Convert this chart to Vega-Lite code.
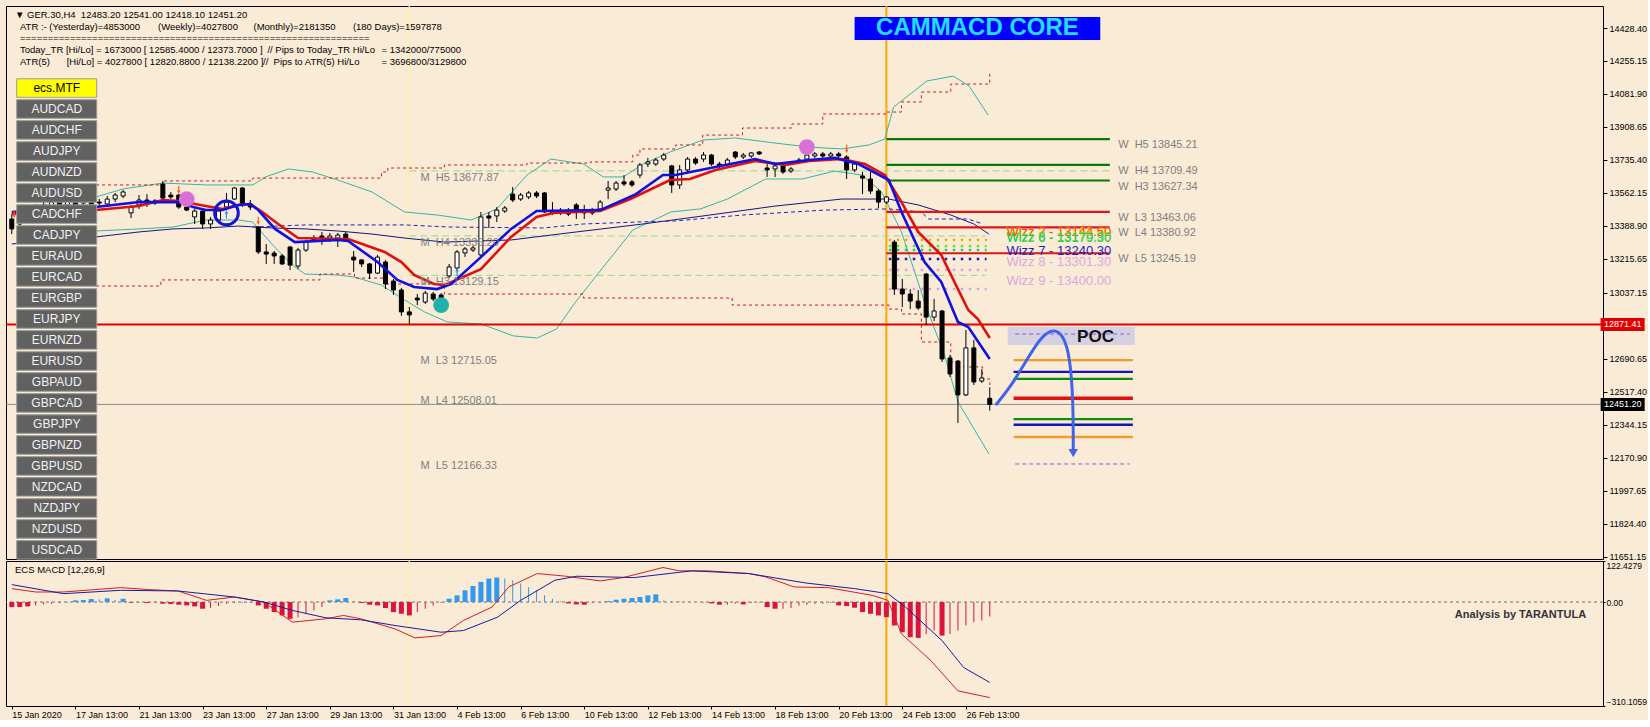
{
"$schema":"https://vega.github.io/schema/vega-lite/v6.json",
"background":"#FAEBD7",
"padding":{"left":4,"top":4,"right":0,"bottom":0},
"spacing":2,
"bounds":"flush",
"config":{"view":{"stroke":"#000000","strokeWidth":1},"font":"Liberation Sans","axis":{"labelFont":"Liberation Sans","labelFontSize":9,"labelColor":"#000000","tickColor":"#000000","domain":false,"grid":false},"tick":{"opacity":1},"point":{"opacity":1}},
"resolve":{"scale":{"x":"independent","y":"independent","color":"independent"}},
"datasets":{
"candles":[
{"b":0,"o":13425,"h":13451,"l":13346,"c":13373},{"b":1,"o":13399,"h":13478,"l":13378,"c":13462},{"b":2,"o":13451,"h":13499,"l":13436,"c":13483},{"b":3,"o":13488,"h":13504,"l":13441,"c":13462},{"b":4,"o":13472,"h":13514,"l":13457,"c":13499},{"b":5,"o":13488,"h":13530,"l":13467,"c":13514},{"b":6,"o":13514,"h":13530,"l":13478,"c":13493},{"b":7,"o":13499,"h":13541,"l":13483,"c":13525},{"b":8,"o":13520,"h":13535,"l":13483,"c":13499},{"b":9,"o":13509,"h":13546,"l":13493,"c":13530},
{"b":10,"o":13525,"h":13541,"l":13488,"c":13504},{"b":11,"o":13514,"h":13530,"l":13493,"c":13509},{"b":12,"o":13504,"h":13546,"l":13493,"c":13530},{"b":13,"o":13530,"h":13562,"l":13514,"c":13551},{"b":14,"o":13546,"h":13577,"l":13535,"c":13567},{"b":15,"o":13457,"h":13499,"l":13430,"c":13488},{"b":16,"o":13499,"h":13551,"l":13478,"c":13525},{"b":17,"o":13525,"h":13556,"l":13488,"c":13509},{"b":18,"o":13520,"h":13530,"l":13499,"c":13509},{"b":19,"o":13609,"h":13625,"l":13530,"c":13535},
{"b":20,"o":13551,"h":13567,"l":13530,"c":13541},{"b":21,"o":13551,"h":13556,"l":13478,"c":13488},{"b":22,"o":13488,"h":13499,"l":13467,"c":13472},{"b":23,"o":13436,"h":13478,"l":13399,"c":13467},{"b":24,"o":13467,"h":13478,"l":13373,"c":13399},{"b":25,"o":13399,"h":13436,"l":13373,"c":13420},{"b":26,"o":13420,"h":13478,"l":13409,"c":13467},{"b":27,"o":13488,"h":13562,"l":13478,"c":13514},{"b":28,"o":13530,"h":13593,"l":13525,"c":13588},{"b":29,"o":13588,"h":13593,"l":13488,"c":13499},
{"b":30,"o":13504,"h":13525,"l":13472,"c":13488},{"b":31,"o":13383,"h":13388,"l":13241,"c":13252},{"b":32,"o":13252,"h":13294,"l":13189,"c":13241},{"b":33,"o":13246,"h":13257,"l":13189,"c":13231},{"b":34,"o":13231,"h":13241,"l":13183,"c":13189},{"b":35,"o":13278,"h":13283,"l":13157,"c":13183},{"b":36,"o":13178,"h":13273,"l":13162,"c":13262},{"b":37,"o":13262,"h":13315,"l":13252,"c":13304},{"b":38,"o":13325,"h":13341,"l":13304,"c":13315},{"b":39,"o":13336,"h":13357,"l":13289,"c":13325},
{"b":40,"o":13325,"h":13352,"l":13304,"c":13336},{"b":41,"o":13325,"h":13352,"l":13278,"c":13341},{"b":42,"o":13346,"h":13357,"l":13304,"c":13320},{"b":43,"o":13225,"h":13257,"l":13147,"c":13210},{"b":44,"o":13210,"h":13215,"l":13173,"c":13189},{"b":45,"o":13189,"h":13194,"l":13110,"c":13141},{"b":46,"o":13141,"h":13236,"l":13136,"c":13225},{"b":47,"o":13199,"h":13210,"l":13057,"c":13084},{"b":48,"o":13099,"h":13110,"l":13026,"c":13052},{"b":49,"o":13052,"h":13063,"l":12916,"c":12937},
{"b":50,"o":12937,"h":12963,"l":12874,"c":12921},{"b":51,"o":13010,"h":13031,"l":12973,"c":13000},{"b":52,"o":12989,"h":13047,"l":12979,"c":13036},{"b":53,"o":13031,"h":13042,"l":12994,"c":13005},{"b":54,"o":13026,"h":13036,"l":12989,"c":13000},{"b":55,"o":13126,"h":13189,"l":13115,"c":13173},{"b":56,"o":13168,"h":13262,"l":13157,"c":13252},{"b":57,"o":13247,"h":13278,"l":13226,"c":13268},{"b":58,"o":13262,"h":13283,"l":13252,"c":13273},{"b":59,"o":13236,"h":13462,"l":13231,"c":13436},
{"b":60,"o":13441,"h":13462,"l":13378,"c":13430},{"b":61,"o":13441,"h":13488,"l":13409,"c":13472},{"b":62,"o":13467,"h":13493,"l":13457,"c":13483},{"b":63,"o":13556,"h":13593,"l":13514,"c":13525},{"b":64,"o":13530,"h":13562,"l":13520,"c":13551},{"b":65,"o":13541,"h":13572,"l":13530,"c":13562},{"b":66,"o":13562,"h":13572,"l":13535,"c":13546},{"b":67,"o":13562,"h":13567,"l":13457,"c":13462},{"b":68,"o":13467,"h":13514,"l":13446,"c":13457},{"b":69,"o":13457,"h":13483,"l":13446,"c":13467},
{"b":70,"o":13462,"h":13483,"l":13441,"c":13451},{"b":71,"o":13499,"h":13509,"l":13425,"c":13467},{"b":72,"o":13457,"h":13499,"l":13425,"c":13467},{"b":73,"o":13467,"h":13483,"l":13446,"c":13457},{"b":74,"o":13478,"h":13525,"l":13467,"c":13514},{"b":75,"o":13577,"h":13625,"l":13530,"c":13588},{"b":76,"o":13583,"h":13625,"l":13572,"c":13614},{"b":77,"o":13620,"h":13656,"l":13598,"c":13609},{"b":78,"o":13620,"h":13630,"l":13593,"c":13604},{"b":79,"o":13656,"h":13719,"l":13640,"c":13709},
{"b":80,"o":13714,"h":13746,"l":13698,"c":13725},{"b":81,"o":13714,"h":13746,"l":13704,"c":13735},{"b":82,"o":13740,"h":13772,"l":13730,"c":13761},{"b":83,"o":13704,"h":13709,"l":13562,"c":13604},{"b":84,"o":13604,"h":13709,"l":13583,"c":13683},{"b":85,"o":13683,"h":13751,"l":13672,"c":13740},{"b":86,"o":13740,"h":13751,"l":13709,"c":13719},{"b":87,"o":13740,"h":13777,"l":13725,"c":13761},{"b":88,"o":13761,"h":13767,"l":13704,"c":13714},{"b":89,"o":13714,"h":13725,"l":13693,"c":13704},
{"b":90,"o":13709,"h":13746,"l":13698,"c":13735},{"b":91,"o":13777,"h":13782,"l":13740,"c":13751},{"b":92,"o":13751,"h":13772,"l":13740,"c":13761},{"b":93,"o":13756,"h":13777,"l":13746,"c":13772},{"b":94,"o":13777,"h":13782,"l":13761,"c":13767},{"b":95,"o":13693,"h":13714,"l":13646,"c":13683},{"b":96,"o":13688,"h":13714,"l":13646,"c":13704},{"b":97,"o":13704,"h":13714,"l":13662,"c":13672},{"b":98,"o":13677,"h":13698,"l":13667,"c":13688},{"b":99,"o":13725,"h":13746,"l":13714,"c":13735},
{"b":100,"o":13740,"h":13772,"l":13730,"c":13761},{"b":101,"o":13756,"h":13777,"l":13746,"c":13767},{"b":102,"o":13767,"h":13777,"l":13746,"c":13756},{"b":103,"o":13756,"h":13777,"l":13746,"c":13767},{"b":104,"o":13767,"h":13777,"l":13746,"c":13756},{"b":105,"o":13751,"h":13761,"l":13635,"c":13683},{"b":106,"o":13683,"h":13725,"l":13672,"c":13714},{"b":107,"o":13651,"h":13672,"l":13556,"c":13640},{"b":108,"o":13635,"h":13672,"l":13556,"c":13572},{"b":109,"o":13572,"h":13583,"l":13483,"c":13514},
{"b":110,"o":13514,"h":13546,"l":13504,"c":13541},{"b":111,"o":13304,"h":13315,"l":13026,"c":13057},{"b":112,"o":13057,"h":13110,"l":12963,"c":13031},{"b":113,"o":13031,"h":13057,"l":12952,"c":12994},{"b":114,"o":12994,"h":13052,"l":12947,"c":12958},{"b":115,"o":13136,"h":13141,"l":12868,"c":12910},{"b":116,"o":12910,"h":13005,"l":12889,"c":12942},{"b":117,"o":12942,"h":12947,"l":12674,"c":12690},{"b":118,"o":12695,"h":12711,"l":12595,"c":12611},{"b":119,"o":12679,"h":12684,"l":12354,"c":12501},
{"b":120,"o":12501,"h":12842,"l":12495,"c":12748},{"b":121,"o":12748,"h":12790,"l":12553,"c":12569},{"b":122,"o":12574,"h":12637,"l":12564,"c":12590},{"b":123,"o":12483.2,"h":12541,"l":12418.1,"c":12451.2}],
"lines":[
{"s":"eS","b":0,"p":13451},{"s":"eS","b":10.6,"p":13472},{"s":"eS","b":16,"p":13493},{"s":"eS","b":19,"p":13525},{"s":"eS","b":21,"p":13520},{"s":"eS","b":24.4,"p":13493},{"s":"eS","b":26.5,"p":13478},{"s":"eS","b":28.5,"p":13499},{"s":"eS","b":30,"p":13504},{"s":"eS","b":31.5,"p":13462},{"s":"eS","b":33.5,"p":13399},{"s":"eS","b":36,"p":13325},{"s":"eS","b":41,"p":13320},{"s":"eS","b":42.3,"p":13320},{"s":"eS","b":46.9,"p":13252},{"s":"eS","b":49,"p":13199},{"s":"eS","b":50.6,"p":13131},{"s":"eS","b":53.1,"p":13084},{"s":"eS","b":54.4,"p":13078},{"s":"eS","b":59,"p":13162},{"s":"eS","b":62.8,"p":13331},{"s":"eS","b":66,"p":13436},{"s":"eS","b":68.1,"p":13457},{"s":"eS","b":74,"p":13467},{"s":"eS","b":77.8,"p":13530},{"s":"eS","b":82.8,"p":13630},{"s":"eS","b":85.3,"p":13635},{"s":"eS","b":88.5,"p":13683},{"s":"eS","b":93.5,"p":13730},{"s":"eS","b":97.3,"p":13709},{"s":"eS","b":100.3,"p":13730},{"s":"eS","b":104.4,"p":13740},{"s":"eS","b":107.3,"p":13714},{"s":"eS","b":109.8,"p":13656},{"s":"eS","b":111.9,"p":13514},{"s":"eS","b":114,"p":13357},{"s":"eS","b":116.9,"p":13236},{"s":"eS","b":119,"p":13057},{"s":"eS","b":120.3,"p":12947},{"s":"eS","b":121.5,"p":12900},{"s":"eS","b":123,"p":12800},
{"s":"eF","b":0,"p":13462},{"s":"eF","b":10.6,"p":13488},{"s":"eF","b":16,"p":13514},{"s":"eF","b":18.5,"p":13514},{"s":"eF","b":21,"p":13514},{"s":"eF","b":22.8,"p":13488},{"s":"eF","b":24.4,"p":13472},{"s":"eF","b":26.5,"p":13472},{"s":"eF","b":28.5,"p":13499},{"s":"eF","b":30,"p":13504},{"s":"eF","b":31,"p":13472},{"s":"eF","b":33.1,"p":13373},{"s":"eF","b":35.6,"p":13304},{"s":"eF","b":41,"p":13315},{"s":"eF","b":42.3,"p":13310},{"s":"eF","b":46,"p":13199},{"s":"eF","b":48.5,"p":13105},{"s":"eF","b":50.6,"p":13068},{"s":"eF","b":53.5,"p":13057},{"s":"eF","b":55.3,"p":13084},{"s":"eF","b":59,"p":13225},{"s":"eF","b":62.8,"p":13373},{"s":"eF","b":66,"p":13467},{"s":"eF","b":74,"p":13472},{"s":"eF","b":78.5,"p":13556},{"s":"eF","b":81.9,"p":13656},{"s":"eF","b":83.5,"p":13656},{"s":"eF","b":88.5,"p":13698},{"s":"eF","b":93.5,"p":13740},{"s":"eF","b":96,"p":13714},{"s":"eF","b":100.3,"p":13735},{"s":"eF","b":103.5,"p":13746},{"s":"eF","b":106.5,"p":13714},{"s":"eF","b":110.3,"p":13630},{"s":"eF","b":111.9,"p":13462},{"s":"eF","b":114.8,"p":13199},{"s":"eF","b":116.9,"p":13094},{"s":"eF","b":119,"p":12884},{"s":"eF","b":120.3,"p":12858},{"s":"eF","b":123,"p":12690},
{"s":"mL","b":0,"p":13294},{"s":"mL","b":10.6,"p":13331},{"s":"mL","b":16,"p":13357},{"s":"mL","b":20.3,"p":13373},{"s":"mL","b":24.4,"p":13378},{"s":"mL","b":28.5,"p":13388},{"s":"mL","b":32.8,"p":13378},{"s":"mL","b":36.9,"p":13373},{"s":"mL","b":41,"p":13362},{"s":"mL","b":45.3,"p":13346},{"s":"mL","b":49.4,"p":13325},{"s":"mL","b":54.4,"p":13304},{"s":"mL","b":62.8,"p":13315},{"s":"mL","b":71,"p":13357},{"s":"mL","b":79.4,"p":13399},{"s":"mL","b":87.8,"p":13446},{"s":"mL","b":96,"p":13493},{"s":"mL","b":104.4,"p":13530},{"s":"mL","b":110.3,"p":13530},{"s":"mL","b":114,"p":13499},{"s":"mL","b":118.1,"p":13446},{"s":"mL","b":121,"p":13399},{"s":"mL","b":122.9,"p":13346},
{"s":"mD","b":30.3,"p":13383},{"s":"mD","b":36.9,"p":13394},{"s":"mD","b":49.4,"p":13394},{"s":"mD","b":55,"p":13383},{"s":"mD","b":66.9,"p":13378},{"s":"mD","b":71.9,"p":13399},{"s":"mD","b":78.5,"p":13409},{"s":"mD","b":83.5,"p":13415},{"s":"mD","b":91.9,"p":13446},{"s":"mD","b":102.3,"p":13472},{"s":"mD","b":110.3,"p":13478},{"s":"mD","b":114.4,"p":13462},{"s":"mD","b":115.3,"p":13425},{"s":"mD","b":120.3,"p":13425},{"s":"mD","b":122.1,"p":13399},
{"s":"bU","b":10.6,"p":13541},{"s":"bU","b":14,"p":13583},{"s":"bU","b":19,"p":13614},{"s":"bU","b":24.4,"p":13604},{"s":"bU","b":30.3,"p":13604},{"s":"bU","b":31.9,"p":13646},{"s":"bU","b":34.8,"p":13688},{"s":"bU","b":37.8,"p":13672},{"s":"bU","b":41,"p":13630},{"s":"bU","b":45.3,"p":13567},{"s":"bU","b":49.4,"p":13462},{"s":"bU","b":53.5,"p":13446},{"s":"bU","b":57.8,"p":13420},{"s":"bU","b":61,"p":13478},{"s":"bU","b":64.8,"p":13656},{"s":"bU","b":67.8,"p":13740},{"s":"bU","b":71.9,"p":13714},{"s":"bU","b":74.4,"p":13646},{"s":"bU","b":76.9,"p":13646},{"s":"bU","b":79.4,"p":13714},{"s":"bU","b":82.8,"p":13777},{"s":"bU","b":86.9,"p":13840},{"s":"bU","b":91,"p":13851},{"s":"bU","b":96,"p":13824},{"s":"bU","b":100.3,"p":13803},{"s":"bU","b":104.4,"p":13793},{"s":"bU","b":107.8,"p":13814},{"s":"bU","b":109.8,"p":13845},{"s":"bU","b":110.9,"p":14013},{"s":"bU","b":115.1,"p":14150},{"s":"bU","b":118.4,"p":14176},{"s":"bU","b":120.4,"p":14124},{"s":"bU","b":122.8,"p":13971},
{"s":"bL","b":10.6,"p":13362},{"s":"bL","b":16,"p":13373},{"s":"bL","b":20.3,"p":13383},{"s":"bL","b":24.4,"p":13420},{"s":"bL","b":28.5,"p":13420},{"s":"bL","b":30.3,"p":13409},{"s":"bL","b":32.8,"p":13289},{"s":"bL","b":35.3,"p":13183},{"s":"bL","b":36.9,"p":13136},{"s":"bL","b":41,"p":13131},{"s":"bL","b":43.1,"p":13120},{"s":"bL","b":46.5,"p":13078},{"s":"bL","b":49.4,"p":13000},{"s":"bL","b":51.9,"p":12937},{"s":"bL","b":54.8,"p":12884},{"s":"bL","b":59,"p":12874},{"s":"bL","b":63.1,"p":12811},{"s":"bL","b":66.1,"p":12800},{"s":"bL","b":68.5,"p":12847},{"s":"bL","b":70.9,"p":12989},{"s":"bL","b":74.4,"p":13173},{"s":"bL","b":78.1,"p":13367},{"s":"bL","b":82.9,"p":13462},{"s":"bL","b":86.6,"p":13478},{"s":"bL","b":90,"p":13530},{"s":"bL","b":94.8,"p":13635},{"s":"bL","b":99.4,"p":13635},{"s":"bL","b":103.5,"p":13677},{"s":"bL","b":106.9,"p":13656},{"s":"bL","b":109.4,"p":13567},{"s":"bL","b":111.9,"p":13357},{"s":"bL","b":114.8,"p":12989},{"s":"bL","b":117.3,"p":12711},{"s":"bL","b":119,"p":12464},{"s":"bL","b":122.9,"p":12191},
{"s":"nU","b":10.6,"p":13604},{"s":"nU","b":19,"p":13625},{"s":"nU","b":30.3,"p":13640},{"s":"nU","b":46.5,"p":13672},{"s":"nU","b":47.3,"p":13693},{"s":"nU","b":54.4,"p":13709},{"s":"nU","b":64.8,"p":13719},{"s":"nU","b":72.8,"p":13725},{"s":"nU","b":78.1,"p":13761},{"s":"nU","b":79,"p":13793},{"s":"nU","b":83.5,"p":13814},{"s":"nU","b":86.9,"p":13866},{"s":"nU","b":91.9,"p":13903},{"s":"nU","b":98.1,"p":13924},{"s":"nU","b":102,"p":13977},{"s":"nU","b":109.9,"p":13987},{"s":"nU","b":111.9,"p":14040},{"s":"nU","b":114.4,"p":14092},{"s":"nU","b":118.1,"p":14134},{"s":"nU","b":123,"p":14197},
{"s":"nL","b":10.6,"p":13073},{"s":"nL","b":18.75,"p":13105},{"s":"nL","b":38.75,"p":13136},{"s":"nL","b":43.1,"p":13115},{"s":"nL","b":46.9,"p":13084},{"s":"nL","b":54.4,"p":13031},{"s":"nL","b":71.9,"p":13010},{"s":"nL","b":90.6,"p":12973},{"s":"nL","b":110.3,"p":12952},{"s":"nL","b":111.9,"p":12926},{"s":"nL","b":114.4,"p":12779},{"s":"nL","b":118.1,"p":12674},{"s":"nL","b":119,"p":12648},{"s":"nL","b":122.1,"p":12585},{"s":"nL","b":123,"p":12553}],
"mlev":[{"b":50,"b2":138.1,"p":13677.87,"t":"M\u00a0\u00a0H5 13677.87"},{"b":50,"b2":122.5,"p":13336.2,"t":"M\u00a0\u00a0H4 13336.20"},{"b":50,"b2":122.5,"p":13129.15,"t":"M\u00a0\u00a0H3 13129.15"},{"p":12715.05,"t":"M\u00a0\u00a0L3 12715.05"},{"p":12508.01,"t":"M\u00a0\u00a0L4 12508.01"},{"p":12166.33,"t":"M\u00a0\u00a0L5 12166.33"}],
"wlev":[{"p":13845.21,"k":"H","t":"W\u00a0\u00a0H5 13845.21"},{"p":13709.49,"k":"H","t":"W\u00a0\u00a0H4 13709.49"},{"p":13627.34,"k":"H","t":"W\u00a0\u00a0H3 13627.34"},{"p":13463.06,"k":"L","t":"W\u00a0\u00a0L3 13463.06"},{"p":13380.92,"k":"L","t":"W\u00a0\u00a0L4 13380.92"},{"p":13245.19,"k":"L","t":"W\u00a0\u00a0L5 13245.19"}],
"wdots":[{"p":13315,"k":"w3"},{"p":13283,"k":"w5"},{"p":13262,"k":"w6"},{"p":13215,"k":"w7"},{"p":13157,"k":"w8"},{"p":13057,"k":"w9"}],
"wizz":[{"p":13315,"k":"w3","t":"Wizz 3 - 13163.80"},{"p":13315,"k":"w2","t":"Wizz 2 - 13144.50"},{"p":13290,"k":"w5","t":"Wizz 5 - 13170.90"},{"p":13283,"k":"w6","t":"Wizz 6 - 13179.30"},{"p":13215,"k":"w7","t":"Wizz 7 - 13240.30"},{"p":13157,"k":"w8","t":"Wizz 8 - 13301.30"},{"p":13057,"k":"w9","t":"Wizz 9 - 13400.00"}],
"zl":[{"p":12684,"k":"o"},{"p":12622,"k":"b"},{"p":12585.4,"k":"g"},{"p":12373.7,"k":"g"},{"p":12344,"k":"b"},{"p":12280,"k":"o"}],
"arrow":[{"k":0,"b":123.75,"p":12448},{"k":1,"b":125.6,"p":12542},{"k":2,"b":127.5,"p":12674},{"k":3,"b":129.4,"p":12805},{"k":4,"b":131,"p":12850},{"k":5,"b":132.25,"p":12816},{"k":6,"b":133.1,"p":12700},{"k":7,"b":133.5,"p":12464},{"k":8,"b":133.5,"p":12215}],
"marks":[{"k":"pink","b":22,"p":13530},{"k":"pink","b":100,"p":13803},{"k":"teal","b":54,"p":12973},{"k":"ring","b":27,"p":13457},{"k":"up","b":27,"p":13450},{"k":"up","b":56,"p":13147},{"k":"down","b":0.3,"p":13451},{"k":"down","b":21,"p":13577},{"k":"down","b":31,"p":13415},{"k":"down","b":105,"p":13793}],
"btn":[{"t":"ecs.MTF","p":14113},{"t":"AUDCAD","p":14003},{"t":"AUDCHF","p":13893},{"t":"AUDJPY","p":13782},{"t":"AUDNZD","p":13672},{"t":"AUDUSD","p":13562},{"t":"CADCHF","p":13451},{"t":"CADJPY","p":13341},{"t":"EURAUD","p":13231},{"t":"EURCAD","p":13121},{"t":"EURGBP","p":13010},{"t":"EURJPY","p":12900},{"t":"EURNZD","p":12790},{"t":"EURUSD","p":12679},{"t":"GBPAUD","p":12569},{"t":"GBPCAD","p":12459},{"t":"GBPJPY","p":12348},{"t":"GBPNZD","p":12238},{"t":"GBPUSD","p":12128},{"t":"NZDCAD","p":12018},{"t":"NZDJPY","p":11907},{"t":"NZDUSD","p":11797},{"t":"USDCAD","p":11687}],
"info":[{"b":0.4,"p":14497,"t":"▼ GER.30,H4\u00a0\u00a012483.20 12541.00 12418.10 12451.20"},{"b":1.03,"p":14434,"t":"ATR :- (Yesterday)=4853000"},{"b":18.4,"p":14434,"t":"(Weekly)=4027800"},{"b":30.4,"p":14434,"t":"(Monthly)=2181350"},{"b":42.9,"p":14434,"t":"(180 Days)=1597878"},{"b":1.03,"p":14376,"t":"==============================================================="},{"b":1.03,"p":14313,"t":"Today_TR [Hi/Lo] = 1673000 [ 12585.4000 / 12373.7000 ]"},{"b":32.15,"p":14313,"t":"// Pips to Today_TR Hi/Lo"},{"b":46.5,"p":14313,"t":"= 1342000/775000"},{"b":1.03,"p":14250,"t":"ATR(5)"},{"b":6.9,"p":14250,"t":"[Hi/Lo] = 4027800 [ 12820.8800 / 12138.2200 ]"},{"b":31.6,"p":14250,"t":"//\u00a0\u00a0Pips to ATR(5) Hi/Lo"},{"b":46.5,"p":14250,"t":"= 3696800/3129800"}],
"hist":[{"b":0,"v":-15,"k":"s"},{"b":1,"v":-15,"k":"s"},{"b":2,"v":-13,"k":"s"},{"b":3,"v":-10,"k":"f"},{"b":4,"v":-7,"k":"f"},{"b":5,"v":-5,"k":"f"},{"b":6,"v":-3,"k":"f"},{"b":7,"v":-1,"k":"f"},{"b":8,"v":5,"k":"s"},{"b":9,"v":6,"k":"s"},{"b":10,"v":9,"k":"s"},{"b":11,"v":8,"k":"f"},{"b":12,"v":11,"k":"s"},{"b":13,"v":6,"k":"f"},{"b":14,"v":10,"k":"s"},{"b":15,"v":-2,"k":"s"},{"b":16,"v":-2,"k":"f"},{"b":17,"v":-3,"k":"s"},{"b":18,"v":-3,"k":"f"},{"b":19,"v":-5,"k":"s"},{"b":20,"v":-6,"k":"s"},{"b":21,"v":-8,"k":"s"},{"b":22,"v":-10,"k":"s"},{"b":23,"v":-13,"k":"s"},{"b":24,"v":-20,"k":"s"},{"b":25,"v":-18,"k":"f"},{"b":26,"v":-12,"k":"f"},{"b":27,"v":-5,"k":"f"},{"b":28,"v":-3,"k":"f"},{"b":29,"v":-2,"k":"f"},{"b":30,"v":-1,"k":"f"},{"b":31,"v":-10,"k":"s"},{"b":32,"v":-20,"k":"s"},{"b":33,"v":-30,"k":"s"},{"b":34,"v":-40,"k":"s"},{"b":35,"v":-50,"k":"s"},{"b":36,"v":-45,"k":"f"},{"b":37,"v":-35,"k":"f"},{"b":38,"v":-25,"k":"f"},{"b":39,"v":-15,"k":"f"},{"b":40,"v":5,"k":"s"},{"b":41,"v":8,"k":"s"},{"b":42,"v":12,"k":"s"},{"b":43,"v":3,"k":"f"},{"b":44,"v":-3,"k":"s"},{"b":45,"v":-8,"k":"s"},{"b":46,"v":-10,"k":"s"},{"b":47,"v":-18,"k":"s"},{"b":48,"v":-30,"k":"s"},{"b":49,"v":-35,"k":"s"},{"b":50,"v":-40,"k":"s"},{"b":51,"v":-30,"k":"f"},{"b":52,"v":-20,"k":"f"},{"b":53,"v":-10,"k":"f"},{"b":54,"v":-3,"k":"f"},{"b":55,"v":10,"k":"s"},{"b":56,"v":20,"k":"s"},{"b":57,"v":35,"k":"s"},{"b":58,"v":48,"k":"s"},{"b":59,"v":60,"k":"s"},{"b":60,"v":70,"k":"s"},{"b":61,"v":73,"k":"s"},{"b":62,"v":70,"k":"f"},{"b":63,"v":65,"k":"f"},{"b":64,"v":55,"k":"f"},{"b":65,"v":45,"k":"f"},{"b":66,"v":35,"k":"f"},{"b":67,"v":20,"k":"f"},{"b":68,"v":10,"k":"f"},{"b":69,"v":3,"k":"f"},{"b":70,"v":-4,"k":"s"},{"b":71,"v":-7,"k":"s"},{"b":72,"v":-8,"k":"s"},{"b":73,"v":-3,"k":"f"},{"b":74,"v":-1,"k":"f"},{"b":75,"v":3,"k":"s"},{"b":76,"v":7,"k":"s"},{"b":77,"v":10,"k":"s"},{"b":78,"v":12,"k":"s"},{"b":79,"v":15,"k":"s"},{"b":80,"v":20,"k":"s"},{"b":81,"v":23,"k":"s"},{"b":82,"v":5,"k":"f"},{"b":83,"v":3,"k":"f"},{"b":84,"v":2,"k":"f"},{"b":85,"v":1,"k":"f"},{"b":86,"v":1,"k":"f"},{"b":87,"v":-1,"k":"f"},{"b":88,"v":-4,"k":"s"},{"b":89,"v":-8,"k":"s"},{"b":90,"v":-8,"k":"f"},{"b":91,"v":-4,"k":"f"},{"b":92,"v":-7,"k":"s"},{"b":93,"v":-3,"k":"f"},{"b":94,"v":-2,"k":"f"},{"b":95,"v":-15,"k":"s"},{"b":96,"v":-20,"k":"s"},{"b":97,"v":-20,"k":"f"},{"b":98,"v":-18,"k":"f"},{"b":99,"v":-10,"k":"f"},{"b":100,"v":-8,"k":"f"},{"b":101,"v":-5,"k":"f"},{"b":102,"v":-5,"k":"f"},{"b":103,"v":-3,"k":"f"},{"b":104,"v":-10,"k":"s"},{"b":105,"v":-12,"k":"s"},{"b":106,"v":-17,"k":"s"},{"b":107,"v":-30,"k":"s"},{"b":108,"v":-35,"k":"s"},{"b":109,"v":-40,"k":"s"},{"b":110,"v":-45,"k":"s"},{"b":111,"v":-70,"k":"s"},{"b":112,"v":-90,"k":"s"},{"b":113,"v":-105,"k":"s"},{"b":114,"v":-107,"k":"s"},{"b":115,"v":-95,"k":"f"},{"b":116,"v":-85,"k":"f"},{"b":117,"v":-100,"k":"s"},{"b":118,"v":-95,"k":"f"},{"b":119,"v":-85,"k":"f"},{"b":120,"v":-70,"k":"f"},{"b":121,"v":-60,"k":"f"},{"b":122,"v":-55,"k":"f"},{"b":123,"v":-43,"k":"f"}],
"ml":[{"s":"main","b":0,"v":40},{"s":"main","b":3,"v":30},{"s":"main","b":6.5,"v":30},{"s":"main","b":13.7,"v":43},{"s":"main","b":17.3,"v":37},{"s":"main","b":20.9,"v":33},{"s":"main","b":24.5,"v":5},{"s":"main","b":28,"v":15},{"s":"main","b":31.7,"v":0},{"s":"main","b":35.3,"v":-60},{"s":"main","b":39.5,"v":-50},{"s":"main","b":41.7,"v":-40},{"s":"main","b":43.9,"v":-50},{"s":"main","b":48.2,"v":-80},{"s":"main","b":50.7,"v":-107},{"s":"main","b":54,"v":-100},{"s":"main","b":56.8,"v":-55},{"s":"main","b":60.4,"v":-15},{"s":"main","b":62.5,"v":45},{"s":"main","b":66.1,"v":85},{"s":"main","b":69.7,"v":77},{"s":"main","b":74,"v":63},{"s":"main","b":76.9,"v":73},{"s":"main","b":81.9,"v":103},{"s":"main","b":84,"v":93},{"s":"main","b":87.6,"v":93},{"s":"main","b":92.7,"v":85},{"s":"main","b":94.8,"v":75},{"s":"main","b":98.4,"v":45},{"s":"main","b":102.7,"v":43},{"s":"main","b":107,"v":25},{"s":"main","b":108.2,"v":20},{"s":"main","b":110.2,"v":5},{"s":"main","b":111.9,"v":-95},{"s":"main","b":115.6,"v":-175},{"s":"main","b":119,"v":-265},{"s":"main","b":123,"v":-285},
{"s":"sig","b":0,"v":52},{"s":"sig","b":6.5,"v":25},{"s":"sig","b":13.7,"v":35},{"s":"sig","b":20.9,"v":33},{"s":"sig","b":28,"v":15},{"s":"sig","b":31.7,"v":0},{"s":"sig","b":35.3,"v":-25},{"s":"sig","b":39.5,"v":-47},{"s":"sig","b":43.9,"v":-53},{"s":"sig","b":48.2,"v":-70},{"s":"sig","b":54,"v":-90},{"s":"sig","b":56.8,"v":-85},{"s":"sig","b":61.1,"v":-45},{"s":"sig","b":64,"v":5},{"s":"sig","b":68.3,"v":65},{"s":"sig","b":71.1,"v":77},{"s":"sig","b":78.3,"v":73},{"s":"sig","b":85.5,"v":93},{"s":"sig","b":92.7,"v":85},{"s":"sig","b":99.8,"v":57},{"s":"sig","b":106,"v":40},{"s":"sig","b":110.2,"v":25},{"s":"sig","b":112.4,"v":-15},{"s":"sig","b":117,"v":-115},{"s":"sig","b":119.7,"v":-195},{"s":"sig","b":123,"v":-240}]
},
"vconcat":[
{"width":1597,"height":553,
"resolve":{"scale":{"color":"independent"},"axis":{"x":"independent","y":"independent"}},
"layer":[
{"data":{"values":[{"b":50}]},"mark":{"type":"rule","color":"#FFF0A0","strokeWidth":1.5},"encoding":{"x":{"field":"b","type":"quantitative","scale":{"domain":[-0.1,199.5],"nice":false,"zero":false},"axis":null}}},
{"data":{"values":[{"b":110}]},"mark":{"type":"rule","color":"#FFA500","strokeWidth":2},"encoding":{"x":{"field":"b","type":"quantitative","scale":{"domain":[-0.1,199.5],"nice":false,"zero":false},"axis":null}}},
{"data":{"name":"mlev"},"transform":[{"filter":"isValid(datum.b2)"}],"mark":{"type":"rule","color":"#8EDC8E","strokeDash":[7,4],"strokeWidth":1},"encoding":{"x":{"field":"b","type":"quantitative","scale":{"domain":[-0.1,199.5],"nice":false,"zero":false},"axis":null},"x2":{"field":"b2"},"y":{"field":"p","type":"quantitative","scale":{"domain":[11639.1,14544],"nice":false,"zero":false},"axis":null}}},
{"data":{"name":"lines"},"transform":[{"filter":"datum.s == 'bU' || datum.s == 'bL'"}],"mark":{"type":"line","color":"#35B5A5","strokeWidth":1,"clip":true},"encoding":{"x":{"field":"b","type":"quantitative","scale":{"domain":[-0.1,199.5],"nice":false,"zero":false},"axis":null},"y":{"field":"p","type":"quantitative","scale":{"domain":[11639.1,14544],"nice":false,"zero":false},"axis":null},"detail":{"field":"s"}}},
{"data":{"name":"lines"},"transform":[{"filter":"datum.s == 'nU' || datum.s == 'nL'"}],"mark":{"type":"line","color":"#C81E1E","strokeWidth":1,"strokeDash":[3,3],"interpolate":"step-after","clip":true},"encoding":{"x":{"field":"b","type":"quantitative","scale":{"domain":[-0.1,199.5],"nice":false,"zero":false},"axis":null},"y":{"field":"p","type":"quantitative","scale":{"domain":[11639.1,14544],"nice":false,"zero":false},"axis":null},"detail":{"field":"s"}}},
{"data":{"name":"lines"},"transform":[{"filter":"datum.s == 'mL'"}],"mark":{"type":"line","color":"#151580","strokeWidth":1,"clip":true},"encoding":{"x":{"field":"b","type":"quantitative","scale":{"domain":[-0.1,199.5],"nice":false,"zero":false},"axis":null},"y":{"field":"p","type":"quantitative","scale":{"domain":[11639.1,14544],"nice":false,"zero":false},"axis":null}}},
{"data":{"name":"lines"},"transform":[{"filter":"datum.s == 'mD'"}],"mark":{"type":"line","color":"#2323B4","strokeWidth":1,"strokeDash":[4,3],"clip":true},"encoding":{"x":{"field":"b","type":"quantitative","scale":{"domain":[-0.1,199.5],"nice":false,"zero":false},"axis":null},"y":{"field":"p","type":"quantitative","scale":{"domain":[11639.1,14544],"nice":false,"zero":false},"axis":null}}},
{"data":{"name":"wlev"},"mark":{"type":"rule","strokeWidth":2.2},"encoding":{"x":{"datum":110,"type":"quantitative","scale":{"domain":[-0.1,199.5],"nice":false,"zero":false},"axis":null},"x2":{"datum":138.1},"y":{"field":"p","type":"quantitative","scale":{"domain":[11639.1,14544],"nice":false,"zero":false},"axis":null},"color":{"condition":{"test":"datum.k == 'H'","value":"#087808"},"value":"#D81818"}}},
{"data":{"name":"wdots"},"mark":{"type":"rule","strokeWidth":2.5,"strokeDash":[2.5,5.5]},"encoding":{"x":{"datum":110.3,"type":"quantitative","scale":{"domain":[-0.1,199.5],"nice":false,"zero":false},"axis":null},"x2":{"datum":122.6},"y":{"field":"p","type":"quantitative","scale":{"domain":[11639.1,14544],"nice":false,"zero":false},"axis":null},"color":{"field":"k","type":"nominal","scale":{"domain":["w3","w5","w6","w7","w8","w9"],"range":["#FFD800","#66E030","#22CC66","#1A1ACC","#DDA0DD","#DDA0DD"]},"legend":null}}},
{"data":{"values":[{"p":13315}]},"mark":{"type":"rule","strokeWidth":1.2,"strokeDash":[1.2,6.8],"strokeDashOffset":-0.6,"color":"#FF2A00"},"encoding":{"x":{"datum":110.3,"type":"quantitative","scale":{"domain":[-0.1,199.5],"nice":false,"zero":false},"axis":null},"x2":{"datum":122.6},"y":{"field":"p","type":"quantitative","scale":{"domain":[11639.1,14544],"nice":false,"zero":false},"axis":null}}},
{"data":{"values":[{"p":12871.41}]},"mark":{"type":"rule","color":"#E00000","strokeWidth":2},"encoding":{"y":{"field":"p","type":"quantitative","scale":{"domain":[11639.1,14544],"nice":false,"zero":false},"axis":null}}},
{"data":{"values":[{"p":12451.2}]},"mark":{"type":"rule","color":"#8A8A8A","strokeWidth":1},"encoding":{"y":{"field":"p","type":"quantitative","scale":{"domain":[11639.1,14544],"nice":false,"zero":false},"axis":null}}},
{"data":{"name":"candles"},"mark":{"type":"rule","color":"#000000","strokeWidth":1,"clip":true},"encoding":{"x":{"field":"b","type":"quantitative","scale":{"domain":[-0.1,199.5],"nice":false,"zero":false},"axis":null},"y":{"field":"l","type":"quantitative","scale":{"domain":[11639.1,14544],"nice":false,"zero":false},"axis":{"orient":"right","values":[14428.4,14255.15,14081.9,13908.65,13735.4,13562.15,13388.9,13215.65,13037.15,12690.65,12517.4,12344.15,12170.9,11997.65,11824.4,11651.15],"format":".2f","tickSize":4,"labelPadding":2,"labelBaseline":"middle","title":null}},"y2":{"field":"h"}}},
{"data":{"name":"candles"},"mark":{"type":"bar","width":4,"stroke":"#000000","strokeWidth":1,"clip":true},"encoding":{"x":{"field":"b","type":"quantitative","scale":{"domain":[-0.1,199.5],"nice":false,"zero":false},"axis":null},"y":{"field":"o","type":"quantitative","scale":{"domain":[11639.1,14544],"nice":false,"zero":false},"axis":null},"y2":{"field":"c"},"fill":{"condition":{"test":"datum.c >= datum.o","value":"#FFFFFF"},"value":"#000000"}}},
{"data":{"name":"lines"},"transform":[{"filter":"datum.s == 'eS'"}],"mark":{"type":"line","color":"#E01010","strokeWidth":2.6,"clip":true},"encoding":{"x":{"field":"b","type":"quantitative","scale":{"domain":[-0.1,199.5],"nice":false,"zero":false},"axis":null},"y":{"field":"p","type":"quantitative","scale":{"domain":[11639.1,14544],"nice":false,"zero":false},"axis":null}}},
{"data":{"name":"lines"},"transform":[{"filter":"datum.s == 'eF'"}],"mark":{"type":"line","color":"#1010E0","strokeWidth":2.6,"clip":true},"encoding":{"x":{"field":"b","type":"quantitative","scale":{"domain":[-0.1,199.5],"nice":false,"zero":false},"axis":null},"y":{"field":"p","type":"quantitative","scale":{"domain":[11639.1,14544],"nice":false,"zero":false},"axis":null}}},
{"data":{"name":"marks"},"transform":[{"filter":"datum.k == 'pink'"}],"mark":{"type":"point","shape":"circle","filled":true,"size":250,"color":"#DA70D6","opacity":1},"encoding":{"x":{"field":"b","type":"quantitative","scale":{"domain":[-0.1,199.5],"nice":false,"zero":false},"axis":null},"y":{"field":"p","type":"quantitative","scale":{"domain":[11639.1,14544],"nice":false,"zero":false},"axis":null}}},
{"data":{"name":"marks"},"transform":[{"filter":"datum.k == 'teal'"}],"mark":{"type":"point","shape":"circle","filled":true,"size":250,"color":"#20B2AA","opacity":1},"encoding":{"x":{"field":"b","type":"quantitative","scale":{"domain":[-0.1,199.5],"nice":false,"zero":false},"axis":null},"y":{"field":"p","type":"quantitative","scale":{"domain":[11639.1,14544],"nice":false,"zero":false},"axis":null}}},
{"data":{"name":"marks"},"transform":[{"filter":"datum.k == 'ring'"}],"mark":{"type":"point","shape":"circle","filled":false,"size":560,"stroke":"#1515D0","strokeWidth":3,"opacity":1},"encoding":{"x":{"field":"b","type":"quantitative","scale":{"domain":[-0.1,199.5],"nice":false,"zero":false},"axis":null},"y":{"field":"p","type":"quantitative","scale":{"domain":[11639.1,14544],"nice":false,"zero":false},"axis":null}}},
{"data":{"name":"marks"},"transform":[{"filter":"datum.k == 'up'"}],"mark":{"type":"point","shape":"arrow","filled":true,"size":70,"color":"#1E90FF","opacity":1},"encoding":{"x":{"field":"b","type":"quantitative","scale":{"domain":[-0.1,199.5],"nice":false,"zero":false},"axis":null},"y":{"field":"p","type":"quantitative","scale":{"domain":[11639.1,14544],"nice":false,"zero":false},"axis":null}}},
{"data":{"name":"marks"},"transform":[{"filter":"datum.k == 'down'"}],"mark":{"type":"point","shape":"arrow","angle":180,"filled":true,"size":70,"color":"#FF5A10","opacity":1,"clip":true},"encoding":{"x":{"field":"b","type":"quantitative","scale":{"domain":[-0.1,199.5],"nice":false,"zero":false},"axis":null},"y":{"field":"p","type":"quantitative","scale":{"domain":[11639.1,14544],"nice":false,"zero":false},"axis":null}}},
{"data":{"values":[{"b":125.25,"b2":141.25,"p":12858,"p2":12763}]},"mark":{"type":"rect","color":"#D6D1E2"},"encoding":{"x":{"field":"b","type":"quantitative","scale":{"domain":[-0.1,199.5],"nice":false,"zero":false},"axis":null},"x2":{"field":"b2"},"y":{"field":"p","type":"quantitative","scale":{"domain":[11639.1,14544],"nice":false,"zero":false},"axis":null},"y2":{"field":"p2"}}},
{"data":{"values":[{"p":12820.88},{"p":12138.22}]},"mark":{"type":"rule","color":"#8A5AE0","strokeWidth":1,"strokeDash":[4,3]},"encoding":{"x":{"datum":126.2,"type":"quantitative","scale":{"domain":[-0.1,199.5],"nice":false,"zero":false},"axis":null},"x2":{"datum":140.6},"y":{"field":"p","type":"quantitative","scale":{"domain":[11639.1,14544],"nice":false,"zero":false},"axis":null}}},
{"data":{"name":"zl"},"mark":{"type":"rule","strokeWidth":2.4},"encoding":{"x":{"datum":126,"type":"quantitative","scale":{"domain":[-0.1,199.5],"nice":false,"zero":false},"axis":null},"x2":{"datum":141},"y":{"field":"p","type":"quantitative","scale":{"domain":[11639.1,14544],"nice":false,"zero":false},"axis":null},"color":{"condition":[{"test":"datum.k == 'o'","value":"#F29A2E"},{"test":"datum.k == 'b'","value":"#1414B8"}],"value":"#0C8C0C"}}},
{"data":{"values":[{"p":12483.2}]},"mark":{"type":"rule","strokeWidth":3.5,"color":"#E01010"},"encoding":{"x":{"datum":126,"type":"quantitative","scale":{"domain":[-0.1,199.5],"nice":false,"zero":false},"axis":null},"x2":{"datum":141},"y":{"field":"p","type":"quantitative","scale":{"domain":[11639.1,14544],"nice":false,"zero":false},"axis":null}}},
{"data":{"values":[{"b":136.3,"p":12805,"t":"POC"}]},"mark":{"type":"text","fontSize":17,"fontWeight":"bold","color":"#111111","align":"center","baseline":"middle"},"encoding":{"x":{"field":"b","type":"quantitative","scale":{"domain":[-0.1,199.5],"nice":false,"zero":false},"axis":null},"y":{"field":"p","type":"quantitative","scale":{"domain":[11639.1,14544],"nice":false,"zero":false},"axis":null},"text":{"field":"t"}}},
{"data":{"name":"arrow"},"mark":{"type":"line","color":"#4262E8","strokeWidth":3,"interpolate":"basis"},"encoding":{"x":{"field":"b","type":"quantitative","scale":{"domain":[-0.1,199.5],"nice":false,"zero":false},"axis":null},"y":{"field":"p","type":"quantitative","scale":{"domain":[11639.1,14544],"nice":false,"zero":false},"axis":null},"order":{"field":"k"}}},
{"data":{"values":[{"b":133.5,"p":12195}]},"mark":{"type":"point","shape":"triangle-down","filled":true,"size":90,"color":"#4262E8","opacity":1},"encoding":{"x":{"field":"b","type":"quantitative","scale":{"domain":[-0.1,199.5],"nice":false,"zero":false},"axis":null},"y":{"field":"p","type":"quantitative","scale":{"domain":[11639.1,14544],"nice":false,"zero":false},"axis":null}}},
{"data":{"name":"mlev"},"mark":{"type":"text","fontSize":11,"color":"#7F7F7F","align":"left","baseline":"middle","dy":7},"encoding":{"x":{"datum":51.4,"type":"quantitative","scale":{"domain":[-0.1,199.5],"nice":false,"zero":false},"axis":null},"y":{"field":"p","type":"quantitative","scale":{"domain":[11639.1,14544],"nice":false,"zero":false},"axis":null},"text":{"field":"t"}}},
{"data":{"name":"wlev"},"mark":{"type":"text","fontSize":11,"color":"#7F7F7F","align":"left","baseline":"middle","dy":6},"encoding":{"x":{"datum":139.15,"type":"quantitative","scale":{"domain":[-0.1,199.5],"nice":false,"zero":false},"axis":null},"y":{"field":"p","type":"quantitative","scale":{"domain":[11639.1,14544],"nice":false,"zero":false},"axis":null},"text":{"field":"t"}}},
{"data":{"name":"wizz"},"mark":{"type":"text","fontSize":13,"align":"left","baseline":"middle","dy":-8},"encoding":{"x":{"datum":125.1,"type":"quantitative","scale":{"domain":[-0.1,199.5],"nice":false,"zero":false},"axis":null},"y":{"field":"p","type":"quantitative","scale":{"domain":[11639.1,14544],"nice":false,"zero":false},"axis":null},"text":{"field":"t"},"color":{"field":"k","type":"nominal","scale":{"domain":["w2","w3","w5","w6","w7","w8","w9"],"range":["#FF4A00","#FFD800","#66E030","#22CC66","#1A1ACC","#DDA8DD","#DDA8DD"]},"legend":null}}},
{"data":{"name":"btn"},"mark":{"type":"tick","orient":"horizontal","size":80,"thickness":18.5,"stroke":"#9A9A9A","strokeWidth":1,"opacity":1},"encoding":{"x":{"datum":5.65,"type":"quantitative","scale":{"domain":[-0.1,199.5],"nice":false,"zero":false},"axis":null},"y":{"field":"p","type":"quantitative","scale":{"domain":[11639.1,14544],"nice":false,"zero":false},"axis":null},"color":{"condition":{"test":"datum.t == 'ecs.MTF'","value":"#FFFF00"},"value":"#616161"}}},
{"data":{"name":"btn"},"mark":{"type":"text","fontSize":12,"align":"center","baseline":"middle"},"encoding":{"x":{"datum":5.65,"type":"quantitative","scale":{"domain":[-0.1,199.5],"nice":false,"zero":false},"axis":null},"y":{"field":"p","type":"quantitative","scale":{"domain":[11639.1,14544],"nice":false,"zero":false},"axis":null},"text":{"field":"t"},"color":{"condition":{"test":"datum.t == 'ecs.MTF'","value":"#000000"},"value":"#F2F2F2"}}},
{"data":{"name":"info"},"mark":{"type":"text","fontSize":9.5,"color":"#000000","align":"left","baseline":"middle"},"encoding":{"x":{"field":"b","type":"quantitative","scale":{"domain":[-0.1,199.5],"nice":false,"zero":false},"axis":null},"y":{"field":"p","type":"quantitative","scale":{"domain":[11639.1,14544],"nice":false,"zero":false},"axis":null},"text":{"field":"t"}}},
{"data":{"values":[{"b":106,"b2":136.9,"p":14486,"p2":14365}]},"mark":{"type":"rect","color":"#0000FF"},"encoding":{"x":{"field":"b","type":"quantitative","scale":{"domain":[-0.1,199.5],"nice":false,"zero":false},"axis":null},"x2":{"field":"b2"},"y":{"field":"p","type":"quantitative","scale":{"domain":[11639.1,14544],"nice":false,"zero":false},"axis":null},"y2":{"field":"p2"}}},
{"data":{"values":[{"b":121.45,"p":14426,"t":"CAMMACD CORE"}]},"mark":{"type":"text","fontSize":24,"fontWeight":"bold","color":"#22DDFF","align":"center","baseline":"middle"},"encoding":{"x":{"field":"b","type":"quantitative","scale":{"domain":[-0.1,199.5],"nice":false,"zero":false},"axis":null},"y":{"field":"p","type":"quantitative","scale":{"domain":[11639.1,14544],"nice":false,"zero":false},"axis":null},"text":{"field":"t"}}},
{"data":{"values":[{"p":12871.41,"t":"12871.41"},{"p":12451.2,"t":"12451.20"}]},"mark":{"type":"tick","orient":"horizontal","size":44,"thickness":13,"opacity":1},"encoding":{"x":{"datum":202.6,"type":"quantitative","scale":{"domain":[-0.1,199.5],"nice":false,"zero":false},"axis":null},"y":{"field":"p","type":"quantitative","scale":{"domain":[11639.1,14544],"nice":false,"zero":false},"axis":null},"color":{"condition":{"test":"datum.p > 12600","value":"#E00000"},"value":"#000000"}}},
{"data":{"values":[{"p":12871.41,"t":"12871.41"},{"p":12451.2,"t":"12451.20"}]},"mark":{"type":"text","fontSize":9,"color":"#FFFFFF","align":"center","baseline":"middle"},"encoding":{"x":{"datum":202.6,"type":"quantitative","scale":{"domain":[-0.1,199.5],"nice":false,"zero":false},"axis":null},"y":{"field":"p","type":"quantitative","scale":{"domain":[11639.1,14544],"nice":false,"zero":false},"axis":null},"text":{"field":"t"}}}
]},
{"width":1597,"height":145,
"resolve":{"scale":{"color":"independent"},"axis":{"x":"independent","y":"independent"}},
"layer":[
{"data":{"values":[{"b":50}]},"mark":{"type":"rule","color":"#FFF0A0","strokeWidth":1.5},"encoding":{"x":{"field":"b","type":"quantitative","scale":{"domain":[-0.1,199.5],"nice":false,"zero":false},"axis":null}}},
{"data":{"values":[{"b":110}]},"mark":{"type":"rule","color":"#FFA500","strokeWidth":2},"encoding":{"x":{"field":"b","type":"quantitative","scale":{"domain":[-0.1,199.5],"nice":false,"zero":false},"axis":null}}},
{"data":{"values":[{"v":0}]},"mark":{"type":"rule","color":"#707070","strokeDash":[3,3],"strokeWidth":1},"encoding":{"y":{"field":"v","type":"quantitative","scale":{"domain":[-310.1059,122.4279],"nice":false,"zero":false},"axis":null}}},
{"data":{"name":"hist"},"transform":[{"filter":"datum.k == 's'"}],"mark":{"type":"bar","width":5},"encoding":{"x":{"field":"b","type":"quantitative","scale":{"domain":[-0.1,199.5],"nice":false,"zero":false},"axis":{"orient":"bottom","values":[0,8,16,24,32,40,48,56,64,72,80,88,96,104,112,120],"labelExpr":"['15 Jan 2020','17 Jan 13:00','21 Jan 13:00','23 Jan 13:00','27 Jan 13:00','29 Jan 13:00','31 Jan 13:00','4 Feb 13:00','6 Feb 13:00','10 Feb 13:00','12 Feb 13:00','14 Feb 13:00','18 Feb 13:00','20 Feb 13:00','24 Feb 13:00','26 Feb 13:00'][round(datum.value/8)]","labelAlign":"left","labelFlush":false,"labelOverlap":false,"labelPadding":1,"tickSize":3,"title":null}},"y":{"field":"v","type":"quantitative","scale":{"domain":[-310.1059,122.4279],"nice":false,"zero":false},"axis":{"orient":"right","values":[122.4279,0,-310.1059],"labelExpr":"datum.value == 0 ? '0.00' : format(datum.value, '.4f')","labelFlush":true,"labelFontSize":8.5,"tickSize":2,"labelPadding":1,"title":null}},"y2":{"datum":0},"color":{"condition":{"test":"datum.v >= 0","value":"#3399EE"},"value":"#DC143C"}}},
{"data":{"name":"hist"},"transform":[{"filter":"datum.k == 'f'"}],"mark":{"type":"bar","width":1},"encoding":{"x":{"field":"b","type":"quantitative","scale":{"domain":[-0.1,199.5],"nice":false,"zero":false},"axis":null},"y":{"field":"v","type":"quantitative","scale":{"domain":[-310.1059,122.4279],"nice":false,"zero":false},"axis":null},"y2":{"datum":0},"color":{"condition":{"test":"datum.v >= 0","value":"#3399EE"},"value":"#DC143C"}}},
{"data":{"name":"ml"},"mark":{"type":"line","strokeWidth":1,"clip":true},"encoding":{"x":{"field":"b","type":"quantitative","scale":{"domain":[-0.1,199.5],"nice":false,"zero":false},"axis":null},"y":{"field":"v","type":"quantitative","scale":{"domain":[-310.1059,122.4279],"nice":false,"zero":false},"axis":null},"color":{"field":"s","type":"nominal","scale":{"domain":["main","sig"],"range":["#D02020","#1A1AA0"]},"legend":null}}},
{"data":{"values":[{"b":0.4,"v":95.6,"t":"ECS MACD [12,26,9]"}]},"mark":{"type":"text","fontSize":9.5,"color":"#000000","align":"left","baseline":"middle"},"encoding":{"x":{"field":"b","type":"quantitative","scale":{"domain":[-0.1,199.5],"nice":false,"zero":false},"axis":null},"y":{"field":"v","type":"quantitative","scale":{"domain":[-310.1059,122.4279],"nice":false,"zero":false},"axis":null},"text":{"field":"t"}}},
{"data":{"values":[{"b":198,"v":-38.7,"t":"Analysis by TARANTULA"}]},"mark":{"type":"text","fontSize":11,"fontWeight":"bold","color":"#333333","align":"right","baseline":"middle"},"encoding":{"x":{"field":"b","type":"quantitative","scale":{"domain":[-0.1,199.5],"nice":false,"zero":false},"axis":null},"y":{"field":"v","type":"quantitative","scale":{"domain":[-310.1059,122.4279],"nice":false,"zero":false},"axis":null},"text":{"field":"t"}}}
]}
]
}
